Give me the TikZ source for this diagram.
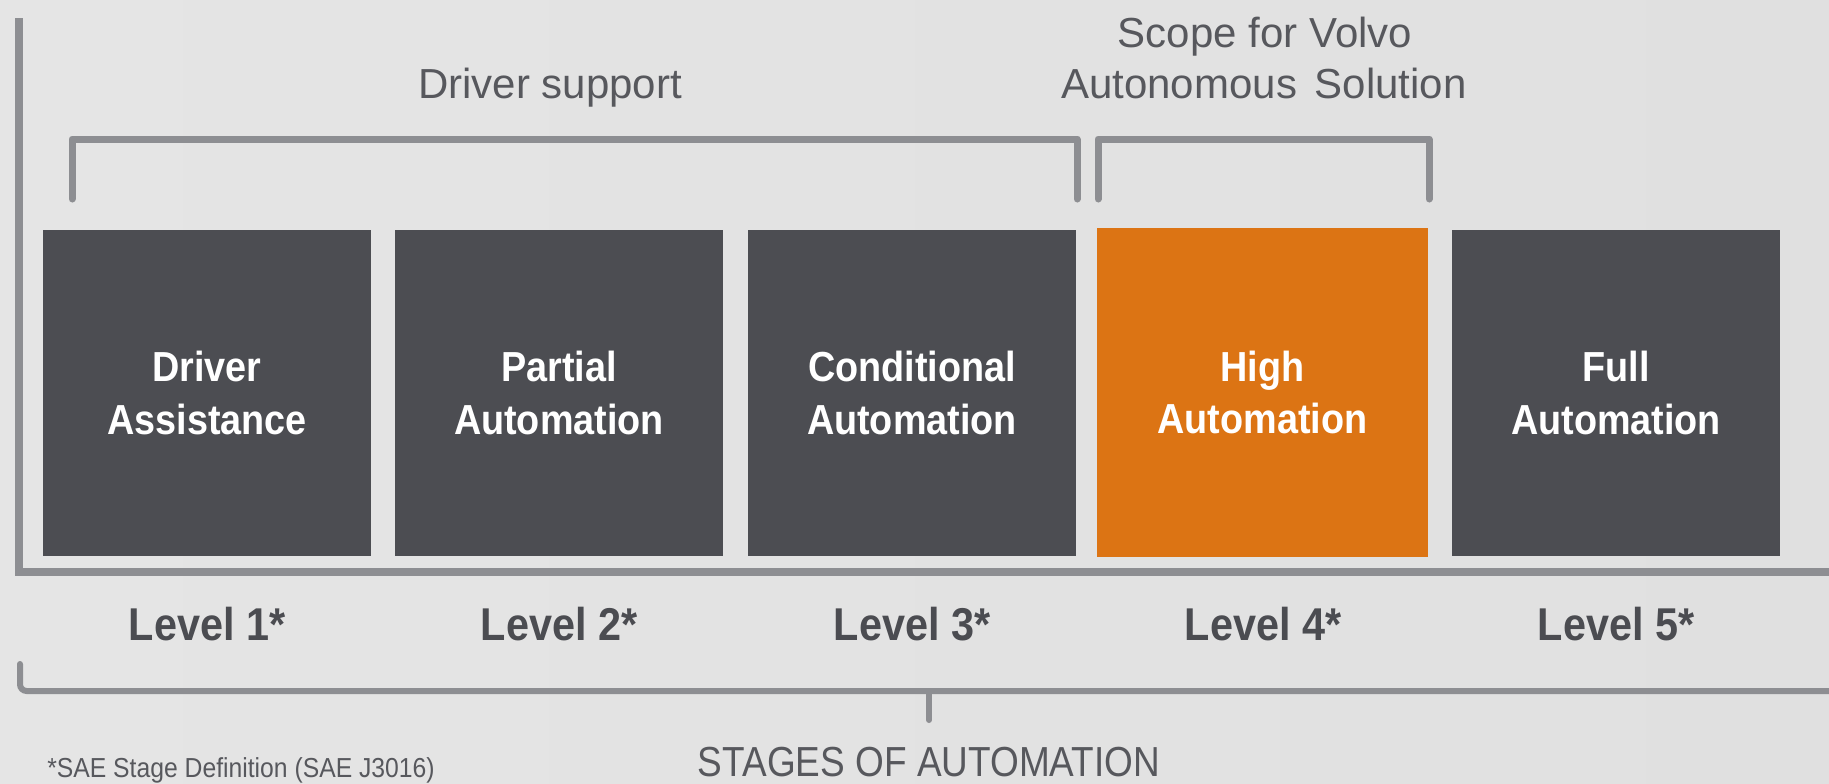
\documentclass[tikz,border=0pt]{standalone}
\usepackage{fontspec}
\setmainfont{Liberation Sans}
\newfontfamily\narrowfont[FakeStretch=0.9]{Liberation Sans}
\newfontfamily\stagesfont[FakeStretch=0.88]{Liberation Sans}
\definecolor{darkbox}{HTML}{4C4D52}
\definecolor{orangebox}{HTML}{DC7414}
\definecolor{linegray}{HTML}{8D8E92}
\definecolor{levelgray}{HTML}{4B4C51}
\definecolor{textgray}{HTML}{57585D}
\definecolor{bgleft}{HTML}{E5E5E5}
\definecolor{bgmid}{HTML}{F1F1F1}
\definecolor{bgright}{HTML}{E0E0E0}
\tikzset{
  stagebox/.style={rectangle, inner sep=0pt, align=center, text=white,
    font=\narrowfont\bfseries\fontsize{31.5}{39.5}\selectfont,
    minimum width=246pt, minimum height=244.5pt, fill=darkbox},
  focusbox/.style={stagebox, fill=orangebox, minimum width=248.25pt, minimum height=246.75pt},
  levellabel/.style={anchor=base, inner sep=0pt, text=levelgray,
    font=\narrowfont\bfseries\fontsize{34.5}{40}\selectfont},
  toptext/.style={anchor=base, inner sep=0pt, text=textgray,
    font=\fontsize{31.5}{38}\selectfont},
  axisline/.style={draw=linegray, line width=6pt},
  bracketline/.style={draw=linegray, line width=5.25pt, line cap=round, line join=round},
  braceline/.style={draw=linegray, line width=4.5pt, line cap=round, rounded corners=5pt}
}
\begin{document}
\begin{tikzpicture}[x=0.75pt, y=-0.75pt]
\useasboundingbox (0,0) rectangle (1829,783);
\shade[left color=bgleft, middle color=bgmid, right color=bgright] (0,0) rectangle (1829,783);

% axes
\coordinate (axtop) at (19,18);
\coordinate (axcorner) at (19,572);
\coordinate (axright) at (1835,572);
\draw[axisline] (axtop) -- (axcorner) -- (axright);

% boxes
\node[stagebox] (b1) at (207,393) {Driver\\Assistance};
\node[stagebox] (b2) at (559,393) {Partial\\Automation};
\node[stagebox] (b3) at (912,393) {Conditional\\Automation};
\node[focusbox] (b4) at (1262.5,392.5) {High\\Automation};
\node[stagebox] (b5) at (1616,393) {Full\\Automation};

% level labels
\node[levellabel] (l1) at (207,640) {Level 1*};
\node[levellabel] (l2) at (559,640) {Level 2*};
\node[levellabel] (l3) at (912,640) {Level 3*};
\node[levellabel] (l4) at (1263,640) {Level 4*};
\node[levellabel] (l5) at (1616,640) {Level 5*};

% brackets
\coordinate (d1) at (72,199);
\coordinate (d2) at (72,139);
\coordinate (d3) at (1077,139);
\coordinate (d4) at (1077,199);
\draw[bracketline] (d1) -- (d2) -- (d3) -- (d4);
\coordinate (s1) at (1098,199);
\coordinate (s2) at (1098,139);
\coordinate (s3) at (1429,139);
\coordinate (s4) at (1429,199);
\draw[bracketline] (s1) -- (s2) -- (s3) -- (s4);

\node[toptext] (drv) at (550,98) {Driver support};
\node[toptext] (scope1) at (1265,47) {Scope for Volvo};
\node[toptext] (scope2) at (1264,98) {Autonomous\hspace{0.15em} Solution};

% bottom brace
\coordinate (br1) at (20,664);
\coordinate (br2) at (20,691);
\coordinate (br3) at (1840,691);
\draw[braceline] (br1) -- (br2) -- (br3);
\coordinate (tk1) at (929,691);
\coordinate (tk2) at (929,720);
\draw[draw=linegray, line width=4.5pt, line cap=round] (tk1) -- (tk2);

\node[anchor=base, inner sep=0pt, text=textgray, font=\stagesfont\fontsize{31.5}{38}\selectfont] (stages) at (929,776) {STAGES OF AUTOMATION};
\node[anchor=base west, inner sep=0pt, text=textgray, font=\narrowfont\fontsize{20.6}{24}\selectfont] (foot) at (47,777) {*SAE Stage Definition (SAE J3016)};
\end{tikzpicture}
\end{document}
